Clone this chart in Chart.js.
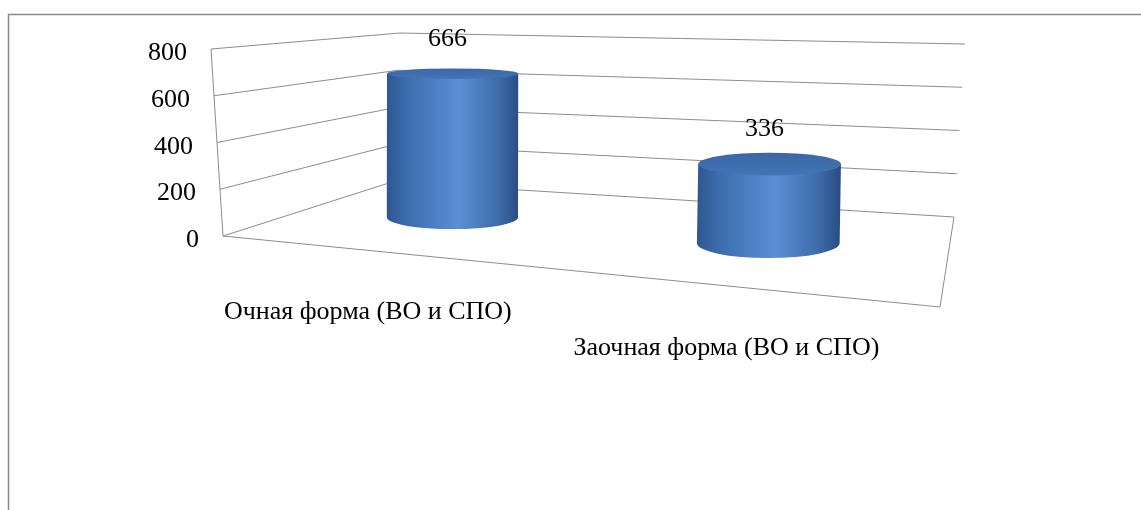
<!DOCTYPE html>
<html lang="ru">
<head>
    <meta charset="UTF-8">
    <title>Очная и заочная форма</title>
    <script src="https://cdn.jsdelivr.net/npm/chart.js"></script>
    <style>
        body { margin: 0; background: #fff; }
        canvas { display: block; }
    </style>
</head>
<body>
    <canvas id="formChart" width="1141" height="510"></canvas>
    <script>
        // данные диаграммы
        const categories = ['Очная форма (ВО и СПО)', 'Заочная форма (ВО и СПО)'];
        const values = [666, 336];
        const yTicks = [0, 200, 400, 600, 800];

        // перспективная "коробка" 3D-диаграммы (углы пола и стен)
        const box = {
            flb: [223, 236], frb: [940, 307], blb: [392, 182], brb: [954, 217],
            flt: [211, 49],  frt: [937, 82], blt: [400, 33],  brt: [965, 44]
        };
        const xShift = -0.034;
        const cylDepth = 0.55;
        const lineColor = '#8c8c8c';
        const font = '26px "Liberation Serif", "Times New Roman", serif';

        function lerp(a, b, k) {
            return [a[0] + (b[0] - a[0]) * k, a[1] + (b[1] - a[1]) * k];
        }
        // t - вдоль категорий, v - значение (0..1), z - глубина
        function proj(t, v, z) {
            const f = lerp(lerp(box.flb, box.frb, t), lerp(box.flt, box.frt, t), v);
            const b = lerp(lerp(box.blb, box.brb, t), lerp(box.blt, box.brt, t), v);
            const p = lerp(f, b, z);
            return { x: p[0], y: p[1] };
        }

        const scene3d = {
            id: 'scene3d',
            beforeDraw(chart) {
                const ctx = chart.ctx;
                const y = chart.scales.y;
                const norm = val => (y.getPixelForValue(val) - y.bottom) / (y.top - y.bottom);
                ctx.save();
                ctx.fillStyle = '#fff';
                ctx.fillRect(0, 0, chart.width, chart.height);
                // рамка области диаграммы
                ctx.strokeStyle = '#8a8a8a';
                ctx.lineWidth = 1.5;
                ctx.strokeRect(8.5, 14.5, 1300, 700);

                ctx.strokeStyle = lineColor;
                ctx.lineWidth = 1;
                const ticks = y.ticks.length ? y.ticks.map(tk => tk.value) : yTicks;
                ticks.forEach(val => {
                    const v = norm(val);
                    const a = proj(0, v, 0), b = proj(0, v, 1), c = proj(1, v, 1);
                    ctx.beginPath();
                    ctx.moveTo(a.x, a.y);
                    ctx.lineTo(b.x, b.y);
                    ctx.lineTo(c.x, c.y);
                    ctx.stroke();
                });
                // передняя левая грань и пол
                let p0 = proj(0, 0, 0), p1 = proj(0, 1, 0);
                ctx.beginPath();
                ctx.moveTo(p1.x, p1.y);
                ctx.lineTo(p0.x, p0.y);
                const p2 = proj(1, 0, 0), p3 = proj(1, 0, 1);
                ctx.lineTo(p2.x, p2.y);
                ctx.lineTo(p3.x, p3.y);
                ctx.stroke();

                // подписи оси значений
                ctx.fillStyle = '#000';
                ctx.font = font;
                ctx.textAlign = 'right';
                ctx.textBaseline = 'alphabetic';
                ticks.forEach(val => {
                    const p = proj(0, norm(val), 0);
                    ctx.fillText(String(val), p.x - 24, p.y + 11);
                });
                ctx.restore();
            },
            afterDatasetsDraw(chart) {
                const ctx = chart.ctx;
                const area = chart.chartArea;
                const y = chart.scales.y;
                const norm = val => (y.getPixelForValue(val) - y.bottom) / (y.top - y.bottom);
                const meta = chart.getDatasetMeta(0);
                ctx.save();
                meta.data.forEach((bar, i) => {
                    const t = (bar.x - area.left) / area.width + xShift;
                    const v = norm(values[i]);
                    const bot = proj(t, 0, cylDepth);
                    const top = proj(t, v, cylDepth);
                    const localH = bot.y - proj(t, 1, cylDepth).y;
                    const rx = (bar.width / area.width) * localH;
                    const ryB = 0.19 * Math.abs(proj(t, 0, 1).y - proj(t, 0, 0).y);
                    const ryT = 0.19 * Math.abs(proj(t, v, 1).y - proj(t, v, 0).y);

                    // боковая поверхность
                    const g = ctx.createLinearGradient(bot.x - rx, 0, bot.x + rx, 0);
                    g.addColorStop(0, '#2d5790');
                    g.addColorStop(0.15, '#3c6cad');
                    g.addColorStop(0.55, '#5a8fd6');
                    g.addColorStop(0.85, '#3e6ba9');
                    g.addColorStop(1, '#2a4e84');
                    ctx.fillStyle = g;
                    ctx.beginPath();
                    ctx.moveTo(top.x - rx, top.y);
                    ctx.lineTo(bot.x - rx, bot.y);
                    ctx.ellipse(bot.x, bot.y, rx, ryB, 0, Math.PI, 0, true);
                    ctx.lineTo(top.x + rx, top.y);
                    ctx.closePath();
                    ctx.fill();

                    // верхняя крышка
                    const gt = ctx.createLinearGradient(0, top.y - ryT, 0, top.y + ryT);
                    gt.addColorStop(0, '#3a67a6');
                    gt.addColorStop(1, '#4374b6');
                    ctx.fillStyle = gt;
                    ctx.beginPath();
                    ctx.ellipse(top.x, top.y, rx, ryT, 0, 0, Math.PI * 2);
                    ctx.fill();

                    // подпись значения
                    ctx.fillStyle = '#000';
                    ctx.font = font;
                    ctx.textAlign = 'center';
                    ctx.textBaseline = 'alphabetic';
                    ctx.fillText(String(values[i]), top.x - 5, top.y - 28);

                    // подпись категории
                    const front = proj(t, 0, 0);
                    ctx.fillText(categories[i], front.x - 10, front.y + 68);
                });
                ctx.restore();
            }
        };

        const ctx = document.getElementById('formChart').getContext('2d');
        new Chart(ctx, {
            type: 'bar',
            data: {
                labels: categories,
                datasets: [{
                    data: values,
                    backgroundColor: 'rgba(0,0,0,0)',
                    barPercentage: 0.76,
                    categoryPercentage: 1
                }]
            },
            options: {
                responsive: false,
                animation: false,
                layout: { padding: { left: 220, right: 180, top: 50, bottom: 270 } },
                plugins: { legend: { display: false }, tooltip: { enabled: false } },
                scales: {
                    x: { display: false },
                    y: {
                        display: false,
                        min: yTicks[0],
                        max: yTicks[yTicks.length - 1],
                        ticks: { stepSize: 200 }
                    }
                }
            },
            plugins: [scene3d]
        });
    </script>
</body>
</html>
